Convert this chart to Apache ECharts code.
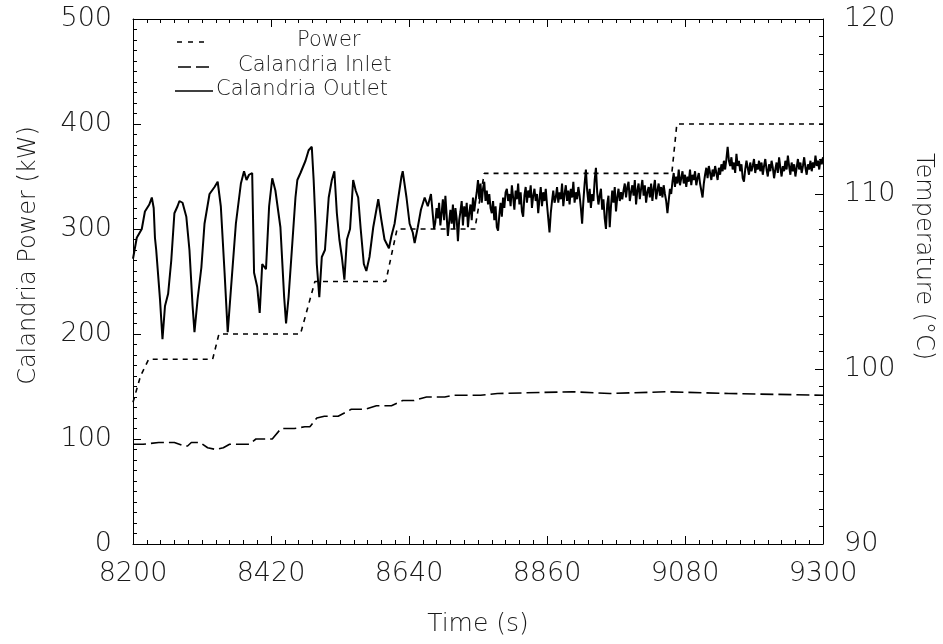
<!DOCTYPE html>
<html>
<head>
<meta charset="utf-8">
<script src="https://cdn.jsdelivr.net/npm/echarts@6/dist/echarts.min.js"></script>
<style>
html,body{margin:0;padding:0;background:#fff;}
#chart{width:943px;height:644px;}
</style>
</head>
<body>
<div id="chart"></div>
<script>
// ---- Data ----
const seriesNames = ['Power', 'Calandria Inlet', 'Calandria Outlet'];

// Power (kW), left axis
const powerTime = [8200, 8212, 8225, 8327, 8337, 8467, 8490, 8603, 8621, 8745, 8760, 9059, 9067, 9300];
const powerKW   = [135,  160,  176,  176,  200,  200,  250,  250,  300,  300,  353,  353,  400,  400];

// Calandria inlet temperature (°C), right axis
const inletTime = [8200, 8216, 8241, 8266, 8281, 8287, 8293, 8307, 8319, 8332, 8344, 8354, 8385, 8396, 8422,
                   8436, 8457, 8474, 8482, 8493, 8505, 8527, 8548, 8570, 8588, 8612, 8630, 8648, 8668, 8697,
                   8711, 8754, 8781, 8900, 8960, 9050, 9150, 9300];
const inletTemp = [95.7, 95.7, 95.8, 95.8, 95.6, 95.6, 95.8, 95.8, 95.5, 95.4, 95.5, 95.7, 95.7, 96.0, 96.0,
                   96.6, 96.6, 96.7, 96.7, 97.2, 97.3, 97.3, 97.7, 97.7, 97.9, 97.9, 98.2, 98.2, 98.4, 98.4,
                   98.5, 98.5, 98.6, 98.7, 98.6, 98.7, 98.6, 98.5];

// Calandria outlet temperature (°C), oscillating part
const outletOscTime = [8200, 8206, 8214, 8219, 8226, 8230, 8233, 8235, 8237, 8243, 8247, 8251, 8256, 8261, 8266,
                       8271, 8274, 8279, 8285, 8290, 8295, 8298, 8303, 8309, 8314, 8322, 8330, 8335, 8340, 8346,
                       8351, 8356, 8364, 8372, 8377, 8381, 8385, 8390, 8393, 8398, 8402, 8406, 8412, 8417, 8422,
                       8427, 8435, 8441, 8444, 8448, 8454, 8459, 8462, 8467, 8475, 8480, 8485, 8488, 8491, 8493,
                       8497, 8501, 8506, 8512, 8517, 8521, 8525, 8529, 8533, 8537, 8541, 8546, 8551, 8555, 8559,
                       8563, 8568, 8572, 8577, 8583, 8591, 8596, 8601, 8608, 8612, 8617, 8623, 8628, 8630, 8636,
                       8641, 8646, 8649, 8654, 8659, 8665, 8670, 8675, 8680];
const outletOscTemp = [106.3, 107.5, 108.0, 109.0, 109.4, 109.8, 109.2, 107.5, 106.8, 104.0, 101.7, 103.6, 104.3, 106.2, 108.9,
                       109.3, 109.6, 109.5, 108.7, 106.8, 103.6, 102.1, 104.0, 105.8, 108.3, 110.0, 110.4, 110.7, 109.3, 105.5,
                       102.1, 104.5, 108.3, 110.6, 111.3, 110.8, 111.1, 111.2, 105.5, 104.7, 103.2, 106.0, 105.7, 109.3, 110.9,
                       110.2, 108.1, 104.1, 102.6, 104.1, 107.2, 109.8, 110.8, 111.2, 111.9, 112.5, 112.7, 110.8, 108.3, 106.0,
                       104.1, 106.4, 106.8, 109.8, 110.8, 111.3, 108.9, 107.4, 106.4, 105.1, 107.4, 108.0, 110.8, 110.2, 109.8,
                       108.0, 106.0, 105.6, 106.4, 108.1, 109.7, 108.5, 107.4, 106.9, 107.6, 108.3, 109.8, 111.0, 111.3, 109.8,
                       108.3, 107.8, 107.2, 108.1, 109.1, 109.8, 109.3, 110.0, 108.0];

// Calandria outlet temperature (°C), noisy part, one reading every 2 s from 8682 s
const outletNoiseStart = 8682;
const outletNoiseStep = 2;
const outletNoiseTemp = [
  108.4,109.2,108.6,109.5,108.2,108.9,109.7,108.5,109.9,108.8,107.6,108.4,109.1,108.3,109.4,108.0,109.2,108.6,107.3,108.5,109.0,109.6,108.2,109.3,108.7,109.5,108.1,108.9,109.4,108.5,109.8,109.0,109.6,
  110.1,110.8,109.7,110.6,109.5,110.3,110.7,109.6,110.2,109.4,110.0,109.2,
  108.9,109.6,108.5,109.3,108.1,107.9,108.8,109.5,108.7,109.8,109.2,110.1,
  110.3,109.6,110.0,109.3,110.5,109.8,109.1,110.2,109.7,110.6,109.4,110.1,109.0,108.7,109.9,110.4,109.5,110.2,109.8,110.5,109.2,109.9,110.3,109.6,110.0,108.9,109.7,110.4,109.3,110.1,109.6,110.3,
  109.4,108.6,107.8,108.9,109.6,110.2,109.5,
  109.8,110.4,109.5,110.1,109.7,110.6,109.3,110.0,110.5,109.6,110.2,109.4,110.3,109.8,110.7,109.5,110.1,109.7,110.4,109.9,
  109.2,108.3,109.6,110.6,111.4,110.2,109.5,110.3,109.2,110.0,109.6,110.8,111.5,110.1,
  109.4,109.9,110.3,109.1,109.7,108.6,108.0,109.4,109.9,108.1,109.3,110.2,109.5,110.4,109.0,109.8,110.3,109.6,110.1,109.7,
  110.2,110.6,109.8,110.4,110.7,109.6,110.1,110.5,109.9,110.8,109.4,110.2,110.6,109.7,110.3,110.8,109.9,110.5,109.5,110.1,110.4,109.8,110.6,109.6,110.3,110.8,109.7,110.2,110.6,109.9,110.4,109.8,110.5,110.0,109.6,
  108.9,109.6,110.3,110.0,
  110.7,111.2,110.4,111.0,110.6,111.4,110.5,110.9,111.3,110.6,111.1,110.4,111.0,110.7,111.4,110.5,111.1,110.8,111.3,110.5,110.9,111.2,110.6,
  110.2,109.8,110.6,
  111.1,111.5,110.9,111.6,111.2,110.8,111.4,111.0,111.6,111.2,110.8,111.5,111.1,111.7,111.3,111.9,111.4,112.0,
  112.7,111.9,111.6,112.1,111.4,111.8,111.2,112.3,111.6,111.9,111.3,111.7,110.9,110.7,111.4,111.9,111.5,111.1,111.8,111.3,111.6,112.0,111.2,111.7,111.4,111.9,
  111.3,111.8,111.1,111.6,112.0,111.4,111.0,111.7,111.3,111.9,111.5,110.9,111.4,111.8,111.2,112.1,111.5,111.0,111.6,111.3,
  111.9,111.4,112.2,111.6,111.1,111.8,111.3,111.7,111.0,111.5,112.0,111.4,111.8,111.2,111.6,112.1,111.5,111.1,111.7,111.4,
  111.9,111.3,111.8,111.5,112.2,111.6,111.9,111.4,112.0,111.7,112.1
];

// Axis ranges / ticks
const timeMin = 8200, timeMax = 9300, timeStep = 220;
const powerMin = 0, powerMax = 500, powerStep = 100;
const tempMin = 90, tempMax = 120, tempStep = 10;

// ---- Build series data ----
const zip = (xs, ys) => xs.map((x, i) => [x, ys[i]]);
const powerData = zip(powerTime, powerKW);
const inletData = zip(inletTime, inletTemp);
const outletData = zip(outletOscTime, outletOscTemp)
  .concat(outletNoiseTemp.map((v, i) => [outletNoiseStart + i * outletNoiseStep, v]));

const FONT = '"DejaVu Sans", "Liberation Sans", sans-serif';
const TXT = '#1a1a1a';
const FW = 200;
function frameParts() {
  return {
    axisLine: {show: true, onZero: false, lineStyle: {color: '#000', width: 1}},
    axisTick: {show: true, inside: true, length: 8, lineStyle: {color: '#000', width: 1}},
    minorTick: {show: true, splitNumber: 10, length: 4, lineStyle: {color: '#000', width: 1}},
    splitLine: {show: false},
    minorSplitLine: {show: false}
  };
}
const plainLabel = v => String(v);

const chart = echarts.init(document.getElementById('chart'), null, {renderer: 'canvas'});
chart.setOption({
  animation: false,
  backgroundColor: '#fff',
  grid: {left: 133, right: 115, top: 19, bottom: 100, containLabel: false},
  xAxis: [
    Object.assign({
      type: 'value', position: 'bottom', min: timeMin, max: timeMax, interval: timeStep,
      name: 'Time (s)', nameLocation: 'middle', nameGap: 68,
      nameTextStyle: {fontFamily: FONT, fontSize: 25, fontWeight: FW, color: TXT},
      axisLabel: {fontFamily: FONT, fontSize: 27, fontWeight: FW, color: TXT, margin: 16, formatter: plainLabel}
    }, frameParts()),
    Object.assign({
      type: 'value', position: 'top', min: timeMin, max: timeMax, interval: timeStep,
      axisLabel: {show: false}
    }, frameParts())
  ],
  yAxis: [
    Object.assign({
      type: 'value', position: 'left', min: powerMin, max: powerMax, interval: powerStep,
      name: 'Calandria Power (kW)', nameLocation: 'middle', nameGap: 92, nameRotate: 90,
      nameTextStyle: {fontFamily: FONT, fontSize: 24, fontWeight: FW, color: TXT, padding: [0, 0, 0, 52]},
      axisLabel: {fontFamily: FONT, fontSize: 27, fontWeight: FW, color: TXT, margin: 21, formatter: plainLabel}
    }, frameParts()),
    Object.assign({
      type: 'value', position: 'right', min: tempMin, max: tempMax, interval: tempStep,
      name: 'Temperature (°C)', nameLocation: 'middle', nameGap: 88, nameRotate: -90,
      nameTextStyle: {fontFamily: FONT, fontSize: 24, fontWeight: FW, color: TXT, padding: [0, 50, 0, 0]},
      axisLabel: {fontFamily: FONT, fontSize: 27, fontWeight: FW, color: TXT, margin: 21, formatter: plainLabel}
    }, frameParts())
  ],
  series: [
    {
      name: seriesNames[0], type: 'line', xAxisIndex: 0, yAxisIndex: 0, data: powerData,
      showSymbol: false, symbol: 'none',
      lineStyle: {color: '#000', width: 1.6, type: [5, 5]}
    },
    {
      name: seriesNames[1], type: 'line', xAxisIndex: 0, yAxisIndex: 1, data: inletData,
      showSymbol: false, symbol: 'none',
      lineStyle: {color: '#000', width: 1.6, type: [13, 5]}
    },
    {
      name: seriesNames[2], type: 'line', xAxisIndex: 0, yAxisIndex: 1, data: outletData,
      showSymbol: false, symbol: 'none',
      lineStyle: {color: '#000', width: 2}
    }
  ],
  graphic: [
    {type: 'line', shape: {x1: 177, y1: 42, x2: 210, y2: 42}, style: {stroke: '#000', lineWidth: 1.4, lineDash: [5, 6]}},
    {type: 'text', left: 297, top: 30, style: {text: seriesNames[0], fontFamily: FONT, fontSize: 21, fontWeight: FW, fill: TXT}},
    {type: 'line', shape: {x1: 178, y1: 67, x2: 212, y2: 67}, style: {stroke: '#000', lineWidth: 1.4, lineDash: [13, 5]}},
    {type: 'text', left: 238, top: 55, style: {text: seriesNames[1], fontFamily: FONT, fontSize: 21, fontWeight: FW, fill: TXT}},
    {type: 'line', shape: {x1: 175, y1: 91, x2: 213, y2: 91}, style: {stroke: '#000', lineWidth: 1.4}},
    {type: 'text', left: 216, top: 79, style: {text: seriesNames[2], fontFamily: FONT, fontSize: 21, fontWeight: FW, fill: TXT}}
  ]
});
</script>
</body>
</html>
